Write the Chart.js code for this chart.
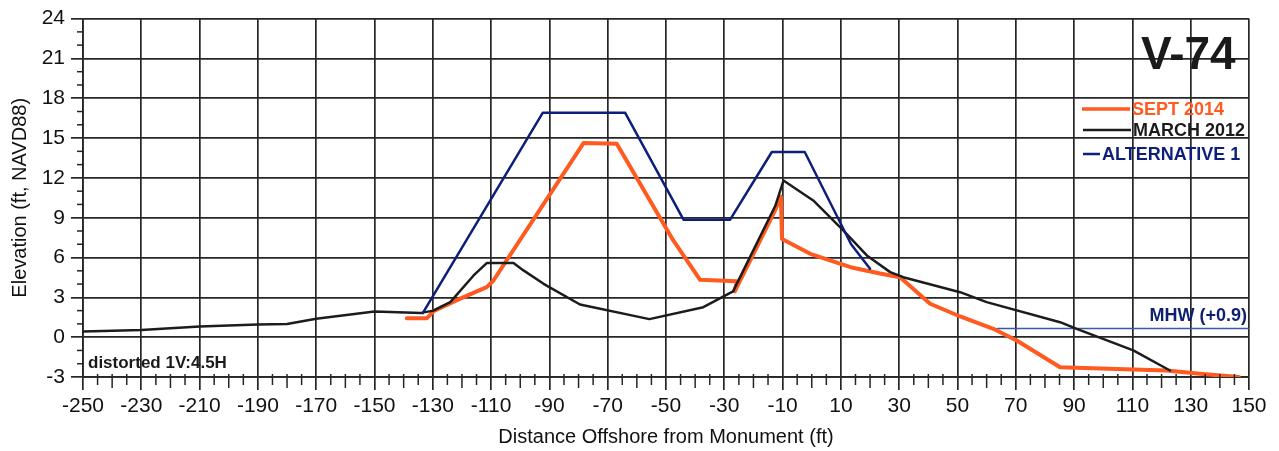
<!DOCTYPE html>
<html>
<head>
<meta charset="utf-8">
<script src="https://cdn.jsdelivr.net/npm/chart.js@4.4.1/dist/chart.umd.min.js"></script>
<style>
  html, body { margin: 0; padding: 0; background: #fff; }
  #wrap { width: 1279px; height: 451px; }
</style>
</head>
<body>
<div id="wrap"><canvas id="profileChart"></canvas></div>
<script>
// Profile V-74 survey data (ft offshore, ft NAVD88)
const sept2014X = [-138.9, -132, -129.8, -120.6, -111.5, -109.2, -78.3, -66.9, -47.5, -38.3, -25.7, -26.4, -12.5, -10.6, -10.2, -0.5, 13.3, 23.4, 30.3, 40.6, 50.9, 62.3, 70.3, 85.2, 121.7, 133.2, 146.5];
const sept2014Y = [1.43, 1.43, 1.95, 2.9, 3.77, 4.27, 14.62, 14.57, 7.29, 4.32, 4.22, 3.45, 9.6, 10.6, 7.4, 6.28, 5.27, 4.8, 4.52, 2.52, 1.56, 0.63, -0.25, -2.26, -2.51, -2.76, -3.0];

const march2012X = [-250, -230, -210, -190, -180, -170, -150, -134, -129.8, -124, -116, -111.5, -102.3, -98.9, -92, -79.5, -55.7, -37.2, -27, -12.5, -9.7, 0.5, 10.8, 18.9, 26.9, 31.4, 50.9, 60, 85.2, 90.9, 110.3, 122.9];
const march2012Y = [0.43, 0.55, 0.8, 0.96, 1.0, 1.39, 1.94, 1.83, 2.0, 2.64, 4.65, 5.58, 5.58, 5.03, 4.02, 2.46, 1.36, 2.26, 3.45, 9.9, 11.8, 10.3, 8.04, 6.16, 4.9, 4.52, 3.39, 2.64, 1.13, 0.63, -1.0, -2.51];

const alt1X = [-133.5, -92.3, -64, -44, -28, -13.7, -2.4, 13.5, 20];
const alt1Y = [1.8, 16.9, 16.9, 8.85, 8.85, 13.95, 13.95, 7.0, 5.15];

const mhwX = [63.5, 150];
const mhwY = [0.65, 0.65];

// axis ranges
const xMin = -250, xMax = 150, xStep = 20;
const yMin = -3, yMax = 24, yStep = 3;

const FONT = '"Liberation Sans", Arial, sans-serif';
const GRID = '#262626';

function toPoints(xs, ys) {
    return xs.map((x, i) => ({ x: x, y: ys[i] }));
}

// minor ticks, legend and labels drawn on top of the chart
const extrasPlugin = {
    id: 'extras',
    afterDraw(chart) {
        const ctx = chart.ctx;
        const xs = chart.scales.x;
        const ys = chart.scales.y;
        const area = chart.chartArea;

        ctx.save();
        ctx.strokeStyle = GRID;
        ctx.lineWidth = 1.5;
        // minor ticks on the x axis every 5 ft
        for (let v = xMin; v <= xMax; v += 5) {
            if ((v - xMin) % xStep === 0) continue;
            const px = xs.getPixelForValue(v);
            const len = (v - xMin) % 10 === 0 ? 11 : 8;
            ctx.beginPath();
            ctx.moveTo(px, area.bottom - 3);
            ctx.lineTo(px, area.bottom + len);
            ctx.stroke();
        }
        // minor ticks on the y axis every 1 ft
        for (let v = yMin; v <= yMax; v += 1) {
            if ((v - yMin) % yStep === 0) continue;
            const py = ys.getPixelForValue(v);
            ctx.beginPath();
            ctx.moveTo(area.left - 6, py);
            ctx.lineTo(area.left + 1, py);
            ctx.stroke();
        }

        // profile name
        ctx.fillStyle = '#1a1a1a';
        ctx.font = 'bold 46px ' + FONT;
        ctx.textAlign = 'left';
        ctx.textBaseline = 'middle';
        ctx.fillText('V-74', 1141, 56);

        // legend
        const legend = [
            { text: 'SEPT 2014', color: '#ff5a1f', x0: 1082, x1: 1130, tx: 1132, y: 110, w: 3.5 },
            { text: 'MARCH 2012', color: '#1c1c1c', x0: 1083, x1: 1131, tx: 1133, y: 131, w: 2.5 },
            { text: 'ALTERNATIVE 1', color: '#0d1f7a', x0: 1083, x1: 1100, tx: 1102, y: 155, w: 2.5 }
        ];
        ctx.font = 'bold 18px ' + FONT;
        legend.forEach(item => {
            ctx.strokeStyle = item.color;
            ctx.lineWidth = item.w;
            ctx.beginPath();
            ctx.moveTo(item.x0, item.y - 1);
            ctx.lineTo(item.x1, item.y - 1);
            ctx.stroke();
            ctx.fillStyle = item.color;
            ctx.fillText(item.text, item.tx, item.y);
        });

        // MHW label
        ctx.fillStyle = '#0d1f6e';
        ctx.font = 'bold 18px ' + FONT;
        ctx.textAlign = 'right';
        ctx.fillText('MHW (+0.9)', 1247, 316);

        // scale note
        ctx.fillStyle = '#1a1a1a';
        ctx.font = 'bold 17px ' + FONT;
        ctx.textAlign = 'left';
        ctx.fillText('distorted 1V:4.5H', 88, 363);
        ctx.restore();
    }
};

const ctx = document.getElementById('profileChart').getContext('2d');
const chart = new Chart(ctx, {
    type: 'line',
    data: {
        datasets: [
            {
                label: 'ALTERNATIVE 1',
                data: toPoints(alt1X, alt1Y),
                borderColor: '#0d1f7a',
                borderWidth: 2.5
            },
            {
                label: 'MARCH 2012',
                data: toPoints(march2012X, march2012Y),
                borderColor: '#1c1c1c',
                borderWidth: 2.5
            },
            {
                label: 'SEPT 2014',
                data: toPoints(sept2014X, sept2014Y),
                borderColor: '#ff5a1f',
                borderWidth: 4
            },
            {
                label: 'MHW',
                data: toPoints(mhwX, mhwY),
                borderColor: '#3a5aa8',
                borderWidth: 1.5
            }
        ]
    },
    options: {
        responsive: true,
        maintainAspectRatio: false,
        animation: false,
        elements: {
            point: { radius: 0 },
            line: { tension: 0, borderJoinStyle: 'round', borderCapStyle: 'round' }
        },
        layout: {
            padding: { top: 18, right: 30, left: 0, bottom: 0 }
        },
        plugins: {
            legend: { display: false },
            tooltip: { enabled: false }
        },
        scales: {
            x: {
                type: 'linear',
                min: xMin,
                max: xMax,
                afterFit: (scale) => { scale.height = 74; },
                ticks: {
                    stepSize: xStep,
                    color: '#111',
                    padding: 4,
                    maxRotation: 0,
                    autoSkip: false,
                    font: { family: FONT, size: 21 }
                },
                grid: { color: GRID, lineWidth: 1.7, tickLength: 13, tickColor: GRID },
                border: { color: GRID, width: 1.7 },
                title: {
                    display: true,
                    text: 'Distance Offshore from Monument (ft)',
                    color: '#111',
                    padding: { top: 0, bottom: 2 },
                    font: { family: FONT, size: 20 }
                }
            },
            y: {
                type: 'linear',
                min: yMin,
                max: yMax,
                afterFit: (scale) => { scale.width = 83; },
                ticks: {
                    stepSize: yStep,
                    color: '#111',
                    padding: 6,
                    autoSkip: false,
                    font: { family: FONT, size: 21 }
                },
                grid: { color: GRID, lineWidth: 1.7, tickLength: 12, tickColor: GRID },
                border: { color: GRID, width: 1.7 },
                title: {
                    display: true,
                    text: 'Elevation (ft, NAVD88)',
                    color: '#111',
                    padding: { top: 8, bottom: 0 },
                    font: { family: FONT, size: 20 }
                }
            }
        }
    },
    plugins: [extrasPlugin]
});
</script>
</body>
</html>
